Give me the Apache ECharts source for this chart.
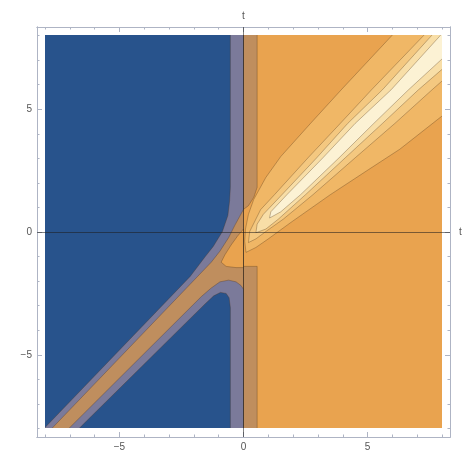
<!DOCTYPE html>
<html>
<head>
<meta charset="utf-8">
<script src="https://cdn.jsdelivr.net/npm/echarts@6/dist/echarts.min.js"></script>
<style>
  html, body { margin: 0; padding: 0; background: #ffffff; }
  #chart { width: 464px; height: 454px; }
</style>
</head>
<body>
<div id="chart"></div>
<script>
// Tick positions and labels
const majorTicks = [-5, 0, 5];
const minorTicks = [-8, -7, -6, -4, -3, -2, -1, 1, 2, 3, 4, 6, 7, 8];
const axisTitleH = 't';
const axisTitleV = 't';

// Filled contour levels, lowest to highest
const levelColors = ['#28538c', '#7b7a9a', '#bf8e5e', '#e9a34f', '#f0b766', '#f4c880', '#f8dea7', '#fcf2d4'];

// Region outlines as [x, t] vertices (parts outside the plot square are clipped)
const baseRect      = [[-9, -9], [9, -9], [9, 9], [-9, 9]];
const leftHalf      = [[-9, -9], [0, -9], [0, 9], [-9, 9]];
const stripUpper    = [[0, 9], [0.55, 9], [0.55, 1.8], [0.42, 1.4], [0.2, 1.05], [0, 0.9]];
const stripLower    = [[0, -9], [0.55, -9], [0.55, -1.42], [0, -1.42]];
const tongue        = [[0, 0.1], [-0.25, -0.2], [-0.5, -0.55], [-0.75, -0.95], [-0.9, -1.25], [-0.7, -1.42], [-0.3, -1.47], [0, -1.47]];
const greyUpper     = [[-9, 9], [0, 9], [0, 0.9], [-0.15, 0.62], [-0.35, 0.25], [-0.6, -0.25], [-0.95, -0.8], [-1.3, -1.25], [-1.85, -1.83], [-7.64, -7.93], [-8.66, -9], [-9, -9]];
const greyLower     = [[0, -9], [0, -2.35], [-0.1, -2.2], [-0.3, -2.05], [-0.6, -1.98], [-0.95, -2.05], [-1.3, -2.3], [-1.7, -2.65], [-6.95, -7.93], [-8.02, -9]];
const blueUpper     = [[-9, 9], [-0.53, 9], [-0.53, 1.8], [-0.56, 1.25], [-0.63, 0.65], [-0.85, 0.0], [-1.22, -0.61], [-1.54, -1.02], [-2.15, -1.83], [-7.95, -7.93], [-8.97, -9], [-9, -9]];
const blueLower     = [[-0.53, -9], [-0.53, -3.1], [-0.58, -2.7], [-0.7, -2.52], [-0.93, -2.48], [-1.2, -2.62], [-1.54, -2.94], [-6.54, -7.93], [-7.6, -9]];
const ridge4        = [[0.1, -0.85], [0.05, -0.4], [0.08, 0.1], [0.2, 0.7], [0.41, 1.3], [0.9, 2.2], [1.5, 3.05], [2.7, 4.4], [3.94, 5.77], [6.0, 8.0], [7.0, 9.1], [9.6, 9.1], [9.6, 5.9], [8.0, 4.7], [6.3, 3.35], [5.04, 2.52], [3.5, 1.5], [1.91, 0.37], [1.0, -0.3], [0.5, -0.65]];
const ridge5        = [[0.2, -0.45], [0.25, 0.0], [0.69, 0.89], [1.25, 1.5], [2.6, 3.0], [3.9, 4.4], [5.16, 5.77], [7.28, 8.0], [8.2, 9.1], [11.5, 9.1], [10.1, 8.0], [7.6, 5.77], [6.1, 4.4], [4.5, 3.0], [2.8, 1.5], [1.6, 0.5], [0.9, 0.0], [0.5, -0.3]];
const ridge6        = [[0.5, -0.05], [0.55, 0.3], [0.8, 0.7], [1.55, 1.5], [2.95, 3.0], [4.2, 4.4], [5.6, 5.77], [7.6, 8.0], [8.5, 9.1], [10.8, 9.1], [9.6, 8.0], [7.05, 5.77], [5.6, 4.4], [4.1, 3.0], [2.5, 1.5], [1.4, 0.5], [0.9, 0.1]];
const ridge7        = [[1.05, 0.55], [1.1, 0.8], [1.75, 1.5], [3.2, 3.0], [4.5, 4.4], [5.95, 5.77], [7.95, 8.0], [8.9, 9.1], [10.1, 9.1], [9.05, 8.0], [6.65, 5.77], [5.25, 4.4], [3.85, 3.0], [2.3, 1.5], [1.5, 0.8]];

// Painting order: each region is drawn over the ones before it
const regions = [
  { pts: baseRect,   level: 3, line: false },
  { pts: leftHalf,   level: 2, line: true },
  { pts: stripUpper, level: 2, line: true },
  { pts: stripLower, level: 2, line: true },
  { pts: tongue,     level: 3, line: true },
  { pts: greyUpper,  level: 1, line: true },
  { pts: greyLower,  level: 1, line: true },
  { pts: blueUpper,  level: 0, line: true },
  { pts: blueLower,  level: 0, line: true },
  { pts: ridge4,     level: 4, line: true },
  { pts: ridge5,     level: 5, line: true },
  { pts: ridge6,     level: 6, line: true },
  { pts: ridge7,     level: 7, line: true }
];

const frameColor = '#aeb4c4';
const labelStyle = { color: '#555', fontSize: 10, fontFamily: 'Liberation Sans, Arial, sans-serif' };
const fmt = v => (v < 0 ? '\u2212' + Math.abs(v) : String(v));

const frameRect = { left: 37, top: 27, width: 413, height: 410 };
const plotRect  = { left: 45, top: 35, width: 397, height: 393 };
const xFrame = [-8.32, 8.32];
const yFrame = [-8.35, 8.35];

function frameAxis(gridIndex, position, ticks, len, withLabels, range) {
  return {
    type: 'value', gridIndex, position, min: range[0], max: range[1],
    axisLine: { show: true, onZero: false, lineStyle: { color: frameColor, width: 1 } },
    axisTick: { show: true, inside: true, length: len, customValues: ticks, lineStyle: { color: frameColor, width: 1 } },
    axisLabel: withLabels
      ? Object.assign({ show: true, customValues: ticks, formatter: fmt, margin: 5 }, labelStyle)
      : { show: false },
    splitLine: { show: false }
  };
}

const chart = echarts.init(document.getElementById('chart'), null, { renderer: 'canvas' });
chart.setOption({
  animation: false,
  backgroundColor: '#ffffff',
  grid: [
    Object.assign({}, frameRect),
    Object.assign({}, frameRect),
    Object.assign({}, plotRect)
  ],
  xAxis: [
    frameAxis(0, 'bottom', majorTicks, 5, true, xFrame),
    frameAxis(0, 'top', majorTicks, 5, false, xFrame),
    frameAxis(1, 'bottom', minorTicks, 2.5, false, xFrame),
    frameAxis(1, 'top', minorTicks, 2.5, false, xFrame),
    { type: 'value', gridIndex: 2, min: -8, max: 8, show: false }
  ],
  yAxis: [
    frameAxis(0, 'left', majorTicks, 5, true, yFrame),
    frameAxis(0, 'right', majorTicks, 5, false, yFrame),
    frameAxis(1, 'left', minorTicks, 2.5, false, yFrame),
    frameAxis(1, 'right', minorTicks, 2.5, false, yFrame),
    { type: 'value', gridIndex: 2, min: -8, max: 8, show: false }
  ],
  series: [
    {
      type: 'custom',
      xAxisIndex: 4,
      yAxisIndex: 4,
      clip: true,
      z: 2,
      silent: true,
      data: regions.map((r, i) => [i]),
      renderItem: function (params, api) {
        const r = regions[params.dataIndex];
        return {
          type: 'polygon',
          shape: { points: r.pts.map(p => api.coord(p)) },
          style: {
            fill: levelColors[r.level],
            stroke: r.line ? 'rgba(70,45,20,0.35)' : null,
            lineWidth: r.line ? 0.9 : 0
          }
        };
      }
    },
    {
      // the x = 0 and t = 0 axes drawn across the frame
      type: 'line',
      xAxisIndex: 0,
      yAxisIndex: 0,
      z: 6,
      silent: true,
      showSymbol: false,
      lineStyle: { opacity: 0 },
      data: [[0, 0]],
      markLine: {
        silent: true,
        symbol: ['none', 'none'],
        animation: false,
        lineStyle: { color: 'rgba(30,30,30,0.55)', width: 1, type: 'solid' },
        label: Object.assign({ show: true, position: 'end', distance: 6 }, labelStyle),
        data: [
          { xAxis: 0, label: { formatter: axisTitleV, distance: 6 } },
          { yAxis: 0, label: { formatter: axisTitleH, distance: 9 } }
        ]
      }
    }
  ]
});
</script>
</body>
</html>
